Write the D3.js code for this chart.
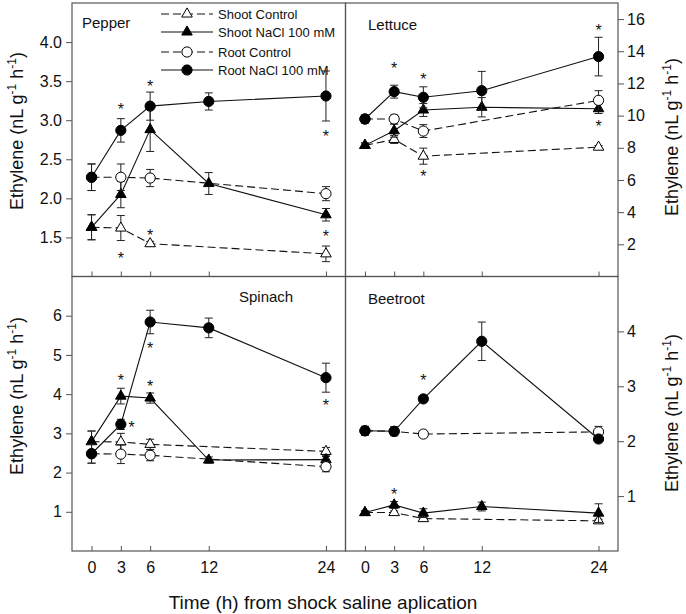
<!DOCTYPE html>
<html>
<head>
<meta charset="utf-8">
<script src="https://cdn.jsdelivr.net/npm/d3@7"></script>
<style>
  body { margin: 0; background: #fff; }
  svg { font-family: "Liberation Sans", Arial, sans-serif; }
</style>
</head>
<body>
<div id="chart"></div>
<script>
// sampling times (control series were not sampled at 12 h)
const timesNaCl = [0, 3, 6, 12, 24];
const timesControl = [0, 3, 6, 24];
const timeTicks = [0, 3, 6, 12, 24];

// [mean, error] pairs
const pepperShootControl = [[1.63, 0.16], [1.62, 0.16], [1.42, 0.03], [1.29, 0.10]];
const pepperShootNaCl = [[1.63, 0.16], [2.05, 0.17], [2.88, 0.28], [2.19, 0.14], [1.79, 0.08]];
const pepperRootControl = [[2.27, 0.17], [2.27, 0.17], [2.26, 0.11], [2.06, 0.09]];
const pepperRootNaCl = [[2.27, 0.17], [2.87, 0.15], [3.18, 0.18], [3.24, 0.11], [3.31, 0.32]];

const lettuceShootControl = [[8.15, 0.15], [8.52, 0.25], [7.48, 0.5], [8.04, 0.1]];
const lettuceShootNaCl = [[8.15, 0.15], [9.06, 0.4], [10.35, 0.4], [10.52, 0.6], [10.43, 0.3]];
const lettuceRootControl = [[9.79, 0.25], [9.79, 0.25], [9.04, 0.4], [10.95, 0.6]];
const lettuceRootNaCl = [[9.79, 0.25], [11.49, 0.4], [11.14, 0.65], [11.55, 1.2], [13.67, 1.2]];

const spinachShootControl = [[2.79, 0.27], [2.78, 0.22], [2.72, 0.13], [2.54, 0.10]];
const spinachShootNaCl = [[2.79, 0.27], [3.95, 0.2], [3.9, 0.13], [2.32, 0.08], [2.33, 0.08]];
const spinachRootControl = [[2.48, 0.24], [2.47, 0.24], [2.44, 0.14], [2.15, 0.13]];
const spinachRootNaCl = [[2.48, 0.24], [3.23, 0.13], [5.84, 0.3], [5.69, 0.25], [4.42, 0.37]];

const beetShootControl = [[0.70, 0.03], [0.70, 0.03], [0.59, 0.03], [0.55, 0.03]];
const beetShootNaCl = [[0.70, 0.03], [0.84, 0.06], [0.69, 0.08], [0.81, 0.08], [0.69, 0.17]];
const beetRootControl = [[2.19, 0.08], [2.18, 0.08], [2.13, 0.06], [2.17, 0.1]];
const beetRootNaCl = [[2.19, 0.08], [2.18, 0.08], [2.77, 0.05], [3.82, 0.35], [2.04, 0.04]];

// significance marks [time, value]
const pepperStars = [[3, 3.18], [3, 1.275], [6, 3.48], [6, 1.57], [24, 2.84], [24, 1.56]];
const lettuceStars = [[3, 13.15], [6, 12.46], [6, 6.43], [24, 15.5], [24, 9.54]];
const spinachStars = [[3, 4.44], [4.1, 3.24], [6, 4.29], [6, 5.25], [24, 3.81]];
const beetStars = [[6, 3.17], [3, 1.1]];

// y axis ticks
const pepperTicks = [1.5, 2.0, 2.5, 3.0, 3.5, 4.0];
const lettuceTicks = [2, 4, 6, 8, 10, 12, 14, 16];
const spinachTicks = [1, 2, 3, 4, 5, 6];
const beetTicks = [1, 2, 3, 4];

const legendLabels = ["Shoot Control", "Shoot NaCl 100 mM", "Root Control", "Root NaCl 100 mM"];

var w = 686;
var h = 614;

// frame edges
var frameLeft = 72, frameMid = 345.5, frameRight = 618;
var frameTop = 3, frameMidY = 276.5, frameBottom = 551;

const svg = d3
  .select("#chart")
  .append("svg")
  .attr("width", w)
  .attr("height", h);

// series styles: shoot control, shoot NaCl, root control, root NaCl
const styles = [
  { shape: d3.symbolTriangle, size: 48, fill: "#fff", dash: "8,4", times: timesControl },
  { shape: d3.symbolTriangle, size: 48, fill: "#000", dash: null, times: timesNaCl },
  { shape: d3.symbolCircle, size: 82, fill: "#fff", dash: "8,4", times: timesControl },
  { shape: d3.symbolCircle, size: 82, fill: "#000", dash: null, times: timesNaCl },
];

const panels = [
  {
    name: "Pepper", side: "left", x0: frameLeft, x1: frameMid, y0: frameTop, y1: frameMidY,
    domain: [1.0, 4.5], ticks: pepperTicks, fmt: d3.format(".1f"), labels: false,
    series: [pepperShootControl, pepperShootNaCl, pepperRootControl, pepperRootNaCl],
    stars: pepperStars, title: [82, 28], ylab: 131,
  },
  {
    name: "Lettuce", side: "right", x0: frameMid, x1: frameRight, y0: frameTop, y1: frameMidY,
    domain: [0, 17], ticks: lettuceTicks, fmt: d3.format("d"), labels: false,
    series: [lettuceShootControl, lettuceShootNaCl, lettuceRootControl, lettuceRootNaCl],
    stars: lettuceStars, title: [368, 30], ylab: 137,
  },
  {
    name: "Spinach", side: "left", x0: frameLeft, x1: frameMid, y0: frameMidY, y1: frameBottom,
    domain: [0, 7], ticks: spinachTicks, fmt: d3.format("d"), labels: true,
    series: [spinachShootControl, spinachShootNaCl, spinachRootControl, spinachRootNaCl],
    stars: spinachStars, title: [239, 302], ylab: 396,
  },
  {
    name: "Beetroot", side: "right", x0: frameMid, x1: frameRight, y0: frameMidY, y1: frameBottom,
    domain: [0, 5], ticks: beetTicks, fmt: d3.format("d"), labels: true,
    series: [beetShootControl, beetShootNaCl, beetRootControl, beetRootNaCl],
    stars: beetStars, title: [368, 304], ylab: 413,
  },
];

panels.forEach(function (p) {
  const x = d3.scaleLinear().domain([-2, 26]).range([p.x0, p.x1]);
  const y = d3.scaleLinear().domain(p.domain).range([p.y1, p.y0]);
  const g = svg.append("g");

  // x axis, ticks pointing inward
  const xAxis = d3
    .axisBottom(x)
    .tickValues(timeTicks)
    .tickSize(-5)
    .tickPadding(11)
    .tickFormat(p.labels ? d3.format("d") : "");
  const gx = g
    .append("g")
    .attr("transform", "translate(0," + p.y1 + ")")
    .call(xAxis);
  gx.select(".domain").remove();

  // y axis on outer side
  const yAxis = (p.side == "left" ? d3.axisLeft(y) : d3.axisRight(y))
    .tickValues(p.ticks)
    .tickSize(6)
    .tickPadding(p.side == "left" ? 4 : 3)
    .tickFormat(p.fmt);
  const gy = g
    .append("g")
    .attr("transform", "translate(" + (p.side == "left" ? p.x0 : p.x1) + ",0)")
    .call(yAxis);
  gy.select(".domain").remove();

  [gx, gy].forEach(function (a) {
    a.selectAll("line").attr("stroke", "#555");
    a.selectAll("text")
      .attr("fill", "#111")
      .style("font-size", "16px")
      .style("font-family", "Liberation Sans, Arial, sans-serif");
  });

  // panel frame
  g.append("rect")
    .attr("x", p.x0)
    .attr("y", p.y0)
    .attr("width", p.x1 - p.x0)
    .attr("height", p.y1 - p.y0)
    .attr("fill", "none")
    .attr("stroke", "#555")
    .attr("stroke-width", 1.2);

  // lines
  const line = d3
    .line()
    .x(function (d) { return x(d[0]); })
    .y(function (d) { return y(d[1][0]); });

  const pts = p.series.map(function (s, i) {
    return s.map(function (v, j) { return [styles[i].times[j], v]; });
  });

  pts.forEach(function (s, i) {
    g.append("path")
      .datum(s)
      .attr("d", line)
      .attr("fill", "none")
      .attr("stroke", "#111")
      .attr("stroke-width", 1.1)
      .attr("stroke-dasharray", styles[i].dash);
  });

  // error bars and markers
  pts.forEach(function (s, i) {
    const eb = g.append("g").attr("stroke", "#222").attr("stroke-width", 1);
    s.forEach(function (d) {
      const cx = x(d[0]);
      const hi = y(d[1][0] + d[1][1]);
      const lo = y(d[1][0] - d[1][1]);
      eb.append("line").attr("x1", cx).attr("x2", cx).attr("y1", hi).attr("y2", lo);
      eb.append("line").attr("x1", cx - 4).attr("x2", cx + 4).attr("y1", hi).attr("y2", hi);
      eb.append("line").attr("x1", cx - 4).attr("x2", cx + 4).attr("y1", lo).attr("y2", lo);
    });
    g.selectAll(null)
      .data(s)
      .enter()
      .append("path")
      .attr("d", d3.symbol().type(styles[i].shape).size(styles[i].size))
      .attr("transform", function (d) {
        return "translate(" + x(d[0]) + "," + y(d[1][0]) + ")";
      })
      .attr("fill", styles[i].fill)
      .attr("stroke", "#000")
      .attr("stroke-width", 1);
  });

  // significance asterisks
  g.selectAll(null)
    .data(p.stars)
    .enter()
    .append("text")
    .attr("x", function (d) { return x(d[0]); })
    .attr("y", function (d) { return y(d[1]) + 9; })
    .attr("text-anchor", "middle")
    .style("font-size", "16px")
    .attr("fill", "#111")
    .text("*");

  // panel title
  g.append("text")
    .attr("x", p.title[0])
    .attr("y", p.title[1])
    .style("font-size", "15px")
    .attr("fill", "#111")
    .text(p.name);

  // y axis label
  const lx = p.side == "left" ? 23 : 678;
  const lab = g
    .append("text")
    .attr("transform", "translate(" + lx + "," + p.ylab + ") rotate(-90)")
    .attr("text-anchor", "middle")
    .style("font-size", "18px")
    .attr("fill", "#111");
  lab.append("tspan").text("Ethylene (nL g");
  lab.append("tspan").attr("dy", -7).style("font-size", "12px").text("-1");
  lab.append("tspan").attr("dy", 7).text(" h");
  lab.append("tspan").attr("dy", -7).style("font-size", "12px").text("-1");
  lab.append("tspan").attr("dy", 7).text(")");
});

// legend in the pepper panel
const legend = svg.append("g");
const legendY = [14, 32, 52, 70];
legendLabels.forEach(function (t, i) {
  const ly = legendY[i];
  legend.append("line")
    .attr("x1", 161).attr("x2", 213).attr("y1", ly).attr("y2", ly)
    .attr("stroke", "#111")
    .attr("stroke-width", 1.1)
    .attr("stroke-dasharray", styles[i].dash);
  legend.append("path")
    .attr("d", d3.symbol().type(styles[i].shape).size(styles[i].size))
    .attr("transform", "translate(187," + ly + ")")
    .attr("fill", styles[i].fill)
    .attr("stroke", "#000");
  legend.append("text")
    .attr("x", 218)
    .attr("y", ly)
    .attr("dy", "0.35em")
    .style("font-size", "13px")
    .attr("fill", "#111")
    .text(t);
});

// x axis title
svg.append("text")
  .attr("x", 323)
  .attr("y", 609)
  .attr("text-anchor", "middle")
  .style("font-size", "19px")
  .attr("fill", "#111")
  .text("Time (h) from shock saline aplication");
</script>
</body>
</html>
